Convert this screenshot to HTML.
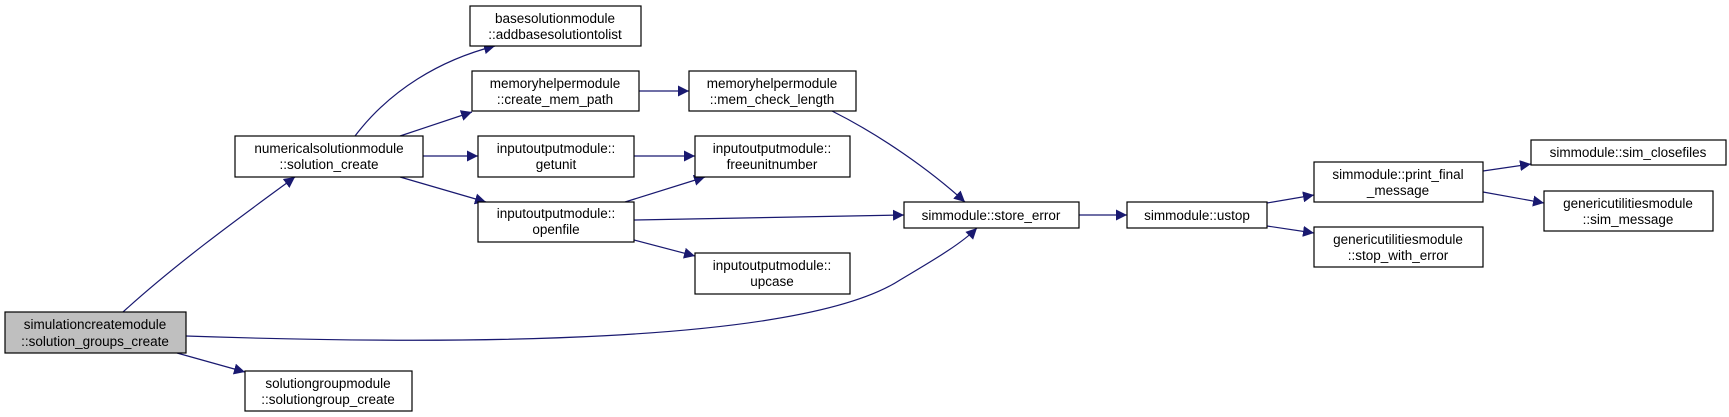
<!DOCTYPE html>
<html><head><meta charset="utf-8"><style>
html,body{margin:0;padding:0;background:#fff;}
svg{display:block;}
text{font-family:"Liberation Sans",sans-serif;font-size:13.5px;fill:#000;}
</style></head><body>
<svg width="1729" height="417" viewBox="0 0 1729 417" xmlns="http://www.w3.org/2000/svg">
<defs><marker id="a" viewBox="0 0 10 10" refX="10" refY="5" markerWidth="11" markerHeight="11" markerUnits="userSpaceOnUse" orient="auto"><path d="M0,0L10,5L0,10z" fill="#191970"/></marker></defs>
<g fill="none" stroke="#191970" stroke-width="1.2" marker-end="url(#a)">
<path d="M123,312 C180,260 250,210 295,177"/>
<path d="M177,353 L245,372"/>
<path d="M186,336 C450,345 800,345 900,280 C930,262 960,245 977,228"/>
<path d="M355,136 C390,90 440,60 495,46"/>
<path d="M400,136 L472,112"/>
<path d="M423,156 L478,156"/>
<path d="M400,177 L486,202"/>
<path d="M639,91 L689,91"/>
<path d="M634,156 L695,156"/>
<path d="M625,202 L705,177"/>
<path d="M634,240 L695,256"/>
<path d="M634,220 L904,215"/>
<path d="M832,111 C880,135 930,170 965,202"/>
<path d="M1079,215 L1127,215"/>
<path d="M1267,203 L1314,195"/>
<path d="M1267,226 L1314,233"/>
<path d="M1483,171 L1531,164"/>
<path d="M1483,192 L1544,203"/>
</g>
<g stroke="#000" stroke-width="1.2" fill="#fff">
<rect x="5" y="312" width="181" height="41" fill="#bfbfbf"/>
<rect x="245" y="371" width="167" height="40"/>
<rect x="235" y="136" width="188" height="41"/>
<rect x="470" y="6" width="171" height="40"/>
<rect x="472" y="71" width="167" height="40"/>
<rect x="478" y="136" width="156" height="41"/>
<rect x="478" y="202" width="156" height="40"/>
<rect x="689" y="71" width="167" height="40"/>
<rect x="695" y="136" width="155" height="41"/>
<rect x="695" y="253" width="155" height="41"/>
<rect x="904" y="202" width="175" height="26"/>
<rect x="1127" y="202" width="140" height="26"/>
<rect x="1314" y="162" width="169" height="40"/>
<rect x="1314" y="227" width="169" height="40"/>
<rect x="1531" y="140" width="195" height="25"/>
<rect x="1544" y="191" width="169" height="40"/>
</g>
<g text-anchor="middle">
<text x="95" y="329">simulationcreatemodule</text><text x="95" y="346">::solution_groups_create</text>
<text x="328" y="388">solutiongroupmodule</text><text x="328" y="404">::solutiongroup_create</text>
<text x="329" y="153">numericalsolutionmodule</text><text x="329" y="169">::solution_create</text>
<text x="555" y="23">basesolutionmodule</text><text x="555" y="39">::addbasesolutiontolist</text>
<text x="555" y="88">memoryhelpermodule</text><text x="555" y="104">::create_mem_path</text>
<text x="556" y="153">inputoutputmodule::</text><text x="556" y="169">getunit</text>
<text x="556" y="218">inputoutputmodule::</text><text x="556" y="234">openfile</text>
<text x="772" y="88">memoryhelpermodule</text><text x="772" y="104">::mem_check_length</text>
<text x="772" y="153">inputoutputmodule::</text><text x="772" y="169">freeunitnumber</text>
<text x="772" y="270">inputoutputmodule::</text><text x="772" y="286">upcase</text>
<text x="991" y="220">simmodule::store_error</text>
<text x="1197" y="220">simmodule::ustop</text>
<text x="1398" y="179">simmodule::print_final</text><text x="1398" y="195">_message</text>
<text x="1398" y="244">genericutilitiesmodule</text><text x="1398" y="260">::stop_with_error</text>
<text x="1628" y="157">simmodule::sim_closefiles</text>
<text x="1628" y="208">genericutilitiesmodule</text><text x="1628" y="224">::sim_message</text>
</g>
</svg>
</body></html>
